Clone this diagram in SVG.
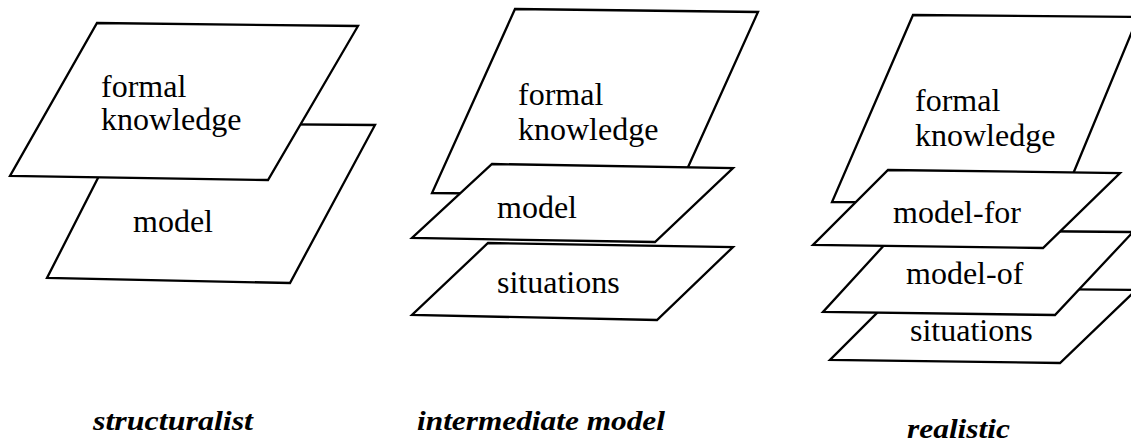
<svg xmlns="http://www.w3.org/2000/svg" width="1131" height="443" viewBox="0 0 1131 443">
<style>
.plane{fill:#fff;stroke:#000;stroke-width:2.3;stroke-linejoin:miter}
.t{font-family:'Liberation Serif','Times New Roman','DejaVu Serif',serif;font-size:32px;fill:#000}
.cap{font-family:'Liberation Serif','Times New Roman','DejaVu Serif',serif;font-size:27px;font-weight:bold;font-style:italic;fill:#000}
</style>
<rect width="1131" height="443" fill="#fff"/>
<g id="structuralist">
  <g id="s-model"><polygon class="plane" points="126,123 375,125 290,283 47,278"/><text class="t" x="133" y="232">model</text></g>
  <g id="s-formal"><polygon class="plane" points="97,23 358,26 268,180 10,176"/><text class="t" x="101" y="97">formal</text><text class="t" x="101" y="130">knowledge</text></g>
  <text id="cap-structuralist" class="cap" x="93" y="430" textLength="160" lengthAdjust="spacingAndGlyphs">structuralist</text>
</g>
<g id="intermediate">
  <g id="i-formal"><polygon class="plane" points="515,9 758,12 675,196 432,193"/><text class="t" x="518" y="105">formal</text><text class="t" x="518" y="140">knowledge</text></g>
  <g id="i-situations"><polygon class="plane" points="488,243 733,247 657,320 412,315"/><text class="t" x="497" y="293">situations</text></g>
  <g id="i-model"><polygon class="plane" points="492,164 733,168 655,242 412,238"/><text class="t" x="497" y="218">model</text></g>
  <text id="cap-intermediate" class="cap" x="417" y="430" textLength="248" lengthAdjust="spacingAndGlyphs">intermediate model</text>
</g>
<g id="realistic">
  <g id="r-situations"><polygon class="plane" points="902,288 1136,290 1060,363 830,360"/><text class="t" x="910" y="341">situations</text></g>
  <g id="r-model-of"><polygon class="plane" points="898,230 1133,232 1055,315 823,312"/><text class="t" x="906" y="284">model-of</text></g>
  <g id="r-formal"><polygon class="plane" points="913,15 1138,17 1061,203 832,202"/><text class="t" x="915" y="111">formal</text><text class="t" x="915" y="146">knowledge</text></g>
  <g id="r-model-for"><polygon class="plane" points="888,170 1120,173 1043,248 813,245"/><text class="t" x="893" y="223">model-for</text></g>
  <text id="cap-realistic" class="cap" x="907" y="438" textLength="103" lengthAdjust="spacingAndGlyphs">realistic</text>
</g>
<g id="connectors"/>
</svg>
